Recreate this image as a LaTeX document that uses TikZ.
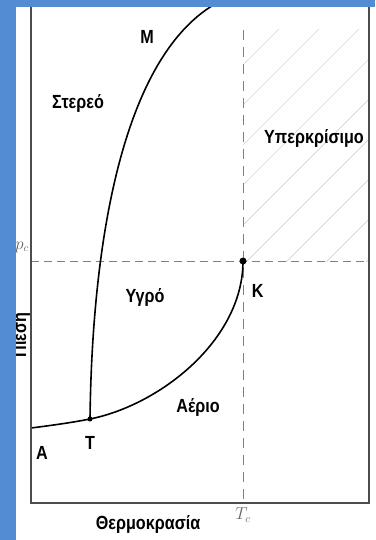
\documentclass[tikz,border=0pt]{standalone}
\usepackage{fontspec}
\setmainfont{Liberation Sans}[FakeStretch=0.85]
\usepackage{xcolor}
\usetikzlibrary{positioning}
\definecolor{bandblue}{RGB}{84,140,212}

\begin{document}
\begin{tikzpicture}[
  x=1pt, y=-1pt,
  phase/.style={font=\fontsize{19}{19}\selectfont\bfseries, inner sep=0pt},
  curve/.style={line width=1.6pt, black},
  guide/.style={gray, line width=0.9pt, dash pattern=on 8pt off 5pt},
  hatch/.style={gray!35, line width=0.7pt},
  critical/.style={font=\fontsize{16}{16}\selectfont, text=gray!80!black, inner sep=0pt},
  dot/.style={circle, fill=black, inner sep=0pt, minimum size=#1},
]
\useasboundingbox (0,0) rectangle (375,540);
\fill[white] (0,0) rectangle (375,540);

% Key points of the diagram
\coordinate (O) at (31,503);
\coordinate (E) at (369,30);
\coordinate (A) at (31,428);
\coordinate (T) at (90,419);
\coordinate (K) at (243,261);
\coordinate (M) at (215,4);

% Supercritical region (hatched)
\begin{scope}
  \clip (K) rectangle (E);
  \foreach \s in {308,348,...,628}
    \draw[hatch] (\s-300,300) -- (\s+50,-50);
\end{scope}

% Critical guides
\draw[guide] (O |- K) -- (E |- K);
\draw[guide, dash pattern=on 10pt off 7pt] (K |- E) -- (K |- O);

% Phase boundaries
\draw[curve] (A) .. controls (55,425) and (75,422) .. (T);
\draw[curve] (T) .. controls (160,405) and (243,340) .. (K);
\draw[curve] (T) .. controls (92,250) and (120,60) .. (M);

\node[dot=7pt] (Kdot) at (K) {};
\node[dot=5pt] (Tdot) at (T) {};

% Labels
\node[phase] (lblM) at (147,37) {Μ};
\node[phase] (solid) at (78,103) {Στερεό};
\node[phase] (super) at (314,138) {Υπερκρίσιμο};
\node[phase] (liquid) at (145,297) {Υγρό};
\node[phase, below right=21pt and 6pt of Kdot] (lblK) {Κ};
\node[phase] (gas) at (198,407) {Αέριο};
\node[phase] (lblA) at (42,453) {Α};
\node[phase, below=15pt of Tdot] (lblT) {Τ};
\node[phase] (xlabel) at (148,524) {Θερμοκρασία};
\node[phase, rotate=90, anchor=base] (ylabel) at (26,335) {Πίεση};
\node[critical] (Tc) at (243,515) {$T_c$};
\node[critical] (pc) at (22,247) {$p_c$};

% Frame
\draw[black!70, line width=1.4pt] (31,0) -- (O) -- (O -| E) -- (369,0);

% Blue border
\fill[bandblue] (0,0) rectangle (375,7);
\fill[bandblue] (0,0) rectangle (16,540);

\end{tikzpicture}
\end{document}
